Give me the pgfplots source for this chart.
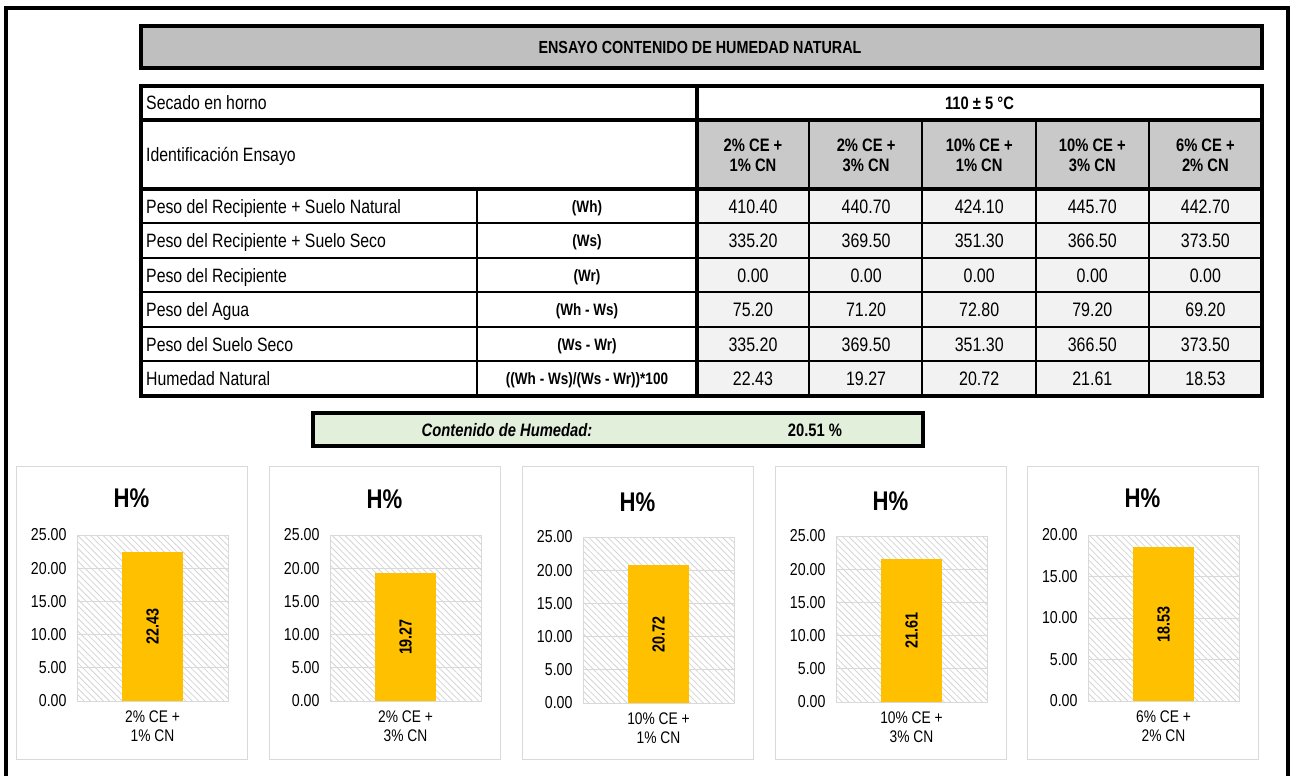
\documentclass[border=0pt]{standalone}
\usepackage{fontspec}
\setmainfont[FakeStretch=0.82]{Liberation Sans}
\usepackage{pgfplots}
\pgfplotsset{compat=1.18}
\usetikzlibrary{patterns.meta}

\definecolor{titlegray}{HTML}{BFBFBF}
\definecolor{headgray}{HTML}{C9C9C9}
\definecolor{cellgray}{HTML}{F2F2F2}
\definecolor{sumgreen}{HTML}{E2EFDA}
\definecolor{bargold}{HTML}{FFC000}
\definecolor{boxline}{HTML}{D9D9D9}
\definecolor{hatch}{HTML}{D4D4D4}

\newcommand\fsz[2]{\fontsize{#1bp}{#2bp}\selectfont}

% shared look of the five small H% charts; #1 = half a y unit in bp
\pgfplotsset{
  hchart/.style={
    scale only axis, width=151bp, height=166bp, anchor=south west,
    xmin=-0.5, xmax=0.5, ymin=0,
    xtick={0}, ytick distance=5,
    major tick length=0pt,
    axis line style={boxline, line width=1bp},
    ymajorgrids, grid style={boxline, line width=1bp},
    axis background/.style={pattern={Lines[angle=-45, distance=4.5bp, line width=0.8bp]}, pattern color=hatch},
    scaled y ticks=false,
    yticklabel style={font=\fsz{17.3}{20}, xshift=-7bp,
      /pgf/number format/fixed, /pgf/number format/zerofill,
      /pgf/number format/precision=2, /pgf/number format/assume math mode=true},
    xticklabel style={font=\fsz{16.8}{19}, align=center, yshift=-6bp},
    ybar, bar width=61bp,
    visualization depends on=rawy \as \rawy,
    nodes near coords={\pgfmathprintnumber[fixed,zerofill,precision=2,assume math mode=true]{\pgfplotspointmeta}},
    every node near coord/.append style={font=\bfseries\fsz{17.5}{20}, anchor=center,
      yshift=-\rawy*#1bp, rotate=90},
  },
  hbar/.style={draw=none, fill=bargold},
}

\begin{document}
\begin{tikzpicture}[x=1bp, y=1bp]
\useasboundingbox (0,0) rectangle (1296,-776);

% page frame
\draw[line width=4bp] (6,-780) -- (6,-8) -- (1288,-8) -- (1288,-780);

% title bar
\draw[line width=4bp, fill=titlegray] (141,-26) rectangle (1262,-68);
\node[anchor=base, font=\bfseries\fsz{17.5}{20}] at (700,-53.5) {ENSAYO CONTENIDO DE HUMEDAD NATURAL};

% table cells
\fill[headgray] (697,-120) rectangle (1262,-189);
\fill[cellgray] (697,-189) rectangle (1262,-396);
\begin{scope}[line width=2bp]
  \foreach \y in {223,258,292,327,361} \draw (141,-\y) -- (1262,-\y);
  \draw (477,-189) -- (477,-396);
  \foreach \x in {809,922,1036,1149} \draw (\x,-120) -- (\x,-396);
\end{scope}
\begin{scope}[line width=3.5bp]
  \draw (141,-120) -- (1262,-120);
  \draw (141,-189) -- (1262,-189);
  \draw (697,-86) -- (697,-396);
  \draw (141,-86) rectangle (1262,-396);
\end{scope}

% row labels
\begin{scope}[font=\fsz{19.3}{22}]
  \node[anchor=base west, inner sep=0pt] at (146,-110) {Secado en horno};
  \node[anchor=base west, inner sep=0pt] at (146,-161.5) {Identificación Ensayo};
  \node[anchor=base west, inner sep=0pt] at (146,-213) {Peso del Recipiente + Suelo Natural};
  \node[anchor=base west, inner sep=0pt] at (146,-247.5) {Peso del Recipiente + Suelo Seco};
  \node[anchor=base west, inner sep=0pt] at (146,-282) {Peso del Recipiente};
  \node[anchor=base west, inner sep=0pt] at (146,-316.5) {Peso del Agua};
  \node[anchor=base west, inner sep=0pt] at (146,-351) {Peso del Suelo Seco};
  \node[anchor=base west, inner sep=0pt] at (146,-385.5) {Humedad Natural};
\end{scope}
\begin{scope}[font=\bfseries\fsz{16.5}{20}]
  \node[anchor=base] at (587,-212) {(Wh)};
  \node[anchor=base] at (587,-246.5) {(Ws)};
  \node[anchor=base] at (587,-281) {(Wr)};
  \node[anchor=base] at (587,-315.5) {(Wh - Ws)};
  \node[anchor=base] at (587,-350) {(Ws - Wr)};
  \node[anchor=base] at (587,-384.5) {((Wh - Ws)/(Ws - Wr))*100};
\end{scope}

% header
\node[anchor=base, font=\bfseries\fsz{18}{20}] at (979.5,-109.5) {110 ± 5 °C};
\foreach \a/\b [count=\c] in {2/1, 2/3, 10/1, 10/3, 6/2} {
  \node[anchor=base, font=\bfseries\fsz{18}{20}] at ({753+(\c-1)*113.1},-151.5) {\a\% CE +};
  \node[anchor=base, font=\bfseries\fsz{18}{20}] at ({753+(\c-1)*113.1},-171.5) {\b\% CN};
}

% values
\foreach \r/\vals in {
  213/{410.40,440.70,424.10,445.70,442.70},
  247.5/{335.20,369.50,351.30,366.50,373.50},
  282/{0.00,0.00,0.00,0.00,0.00},
  316.5/{75.20,71.20,72.80,79.20,69.20},
  351/{335.20,369.50,351.30,366.50,373.50},
  385.5/{22.43,19.27,20.72,21.61,18.53}} {
  \foreach \v [count=\c] in \vals
    \node[anchor=base, font=\fsz{19.5}{20}] at ({753+(\c-1)*113.1},-\r) {\v};
}

% summary
\draw[line width=4bp, fill=sumgreen] (313,-413) rectangle (923,-446);
\node[anchor=base, font=\bfseries\itshape\fsz{18}{20}] at (507,-436) {Contenido de Humedad:};
\node[anchor=base, font=\bfseries\fsz{18}{20}] at (815,-436) {20.51 \%};

% chart boxes and titles
\foreach \bx/\ty in {16/498, 269/499, 522/502, 775/501, 1027/498} {
  \draw[boxline, line width=1bp] (\bx,-466) rectangle (\bx+231,-759);
  \node[font=\bfseries\fsz{27}{30}] at (\bx+115.5,-\ty) {H\%};
}

\begin{axis}[hchart=3.32, at={(77bp,-701bp)}, ymax=25, xticklabels={{2\% CE +\\1\% CN}}]
\addplot[hbar] coordinates {(0,22.43)};
\end{axis}

\begin{axis}[hchart=3.32, at={(330bp,-701bp)}, ymax=25, xticklabels={{2\% CE +\\3\% CN}}]
\addplot[hbar] coordinates {(0,19.27)};
\end{axis}

\begin{axis}[hchart=3.32, at={(583bp,-703bp)}, ymax=25, xticklabels={{10\% CE +\\1\% CN}}]
\addplot[hbar] coordinates {(0,20.72)};
\end{axis}

\begin{axis}[hchart=3.32, at={(836bp,-702bp)}, ymax=25, xticklabels={{10\% CE +\\3\% CN}}]
\addplot[hbar] coordinates {(0,21.61)};
\end{axis}

\begin{axis}[hchart=4.15, at={(1088bp,-701bp)}, ymax=20, xticklabels={{6\% CE +\\2\% CN}}]
\addplot[hbar] coordinates {(0,18.53)};
\end{axis}

\end{tikzpicture}
\end{document}
